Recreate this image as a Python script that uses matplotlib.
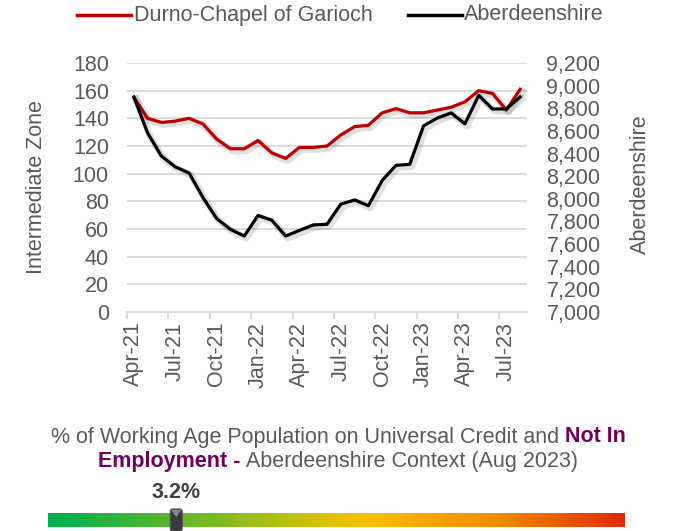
import matplotlib
matplotlib.use("Agg")
import matplotlib.pyplot as plt
import matplotlib.patheffects as pe
from matplotlib.colors import LinearSegmentedColormap
from matplotlib.patches import FancyBboxPatch, Polygon
import numpy as np

plt.rcParams['font.family'] = ['Liberation Sans', 'DejaVu Sans']

months = ['Apr-21', 'May-21', 'Jun-21', 'Jul-21', 'Aug-21', 'Sep-21', 'Oct-21', 'Nov-21', 'Dec-21',
          'Jan-22', 'Feb-22', 'Mar-22', 'Apr-22', 'May-22', 'Jun-22', 'Jul-22', 'Aug-22', 'Sep-22',
          'Oct-22', 'Nov-22', 'Dec-22', 'Jan-23', 'Feb-23', 'Mar-23', 'Apr-23', 'May-23', 'Jun-23',
          'Jul-23', 'Aug-23']
durno = [155, 140, 137, 138, 140, 136, 125, 118, 118, 124, 115, 111, 119, 119, 120, 128, 134, 135,
         144, 147, 144, 144, 146, 148, 152, 160, 158, 146, 161]
aberdeenshire = [8900, 8580, 8377, 8282, 8228, 8013, 7826, 7730, 7671, 7853, 7811, 7671, 7721, 7769,
                 7775, 7953, 7990, 7939, 8162, 8296, 8305, 8645, 8714, 8759, 8663, 8914, 8794, 8794, 8900]
left_ticks = list(range(0, 181, 20))
right_ticks = list(range(7000, 9201, 200))
gauge_value = 3.2
gauge_min, gauge_max = 0.0, 14.4

GRAY = '#595959'
FS = 15.5
fig = plt.figure(figsize=(6.75, 5.31), dpi=100)
ax = fig.add_axes([127/675, 1-312/531, 400/675, 249/531])
ax2 = ax.twinx()

x = np.arange(len(months))
shadow = [pe.SimpleLineShadow(offset=(1.5, -1.5), shadow_color='k', alpha=0.12, linewidth=5), pe.Normal()]
ax.plot(x, durno, color='#c00000', lw=2.3, path_effects=shadow, zorder=3)
ax2.plot(x, aberdeenshire, color='#000000', lw=2.3, path_effects=shadow, zorder=3)

ax.set_xlim(-0.5, len(months) - 0.5)
ax.set_ylim(0, 180)
ax2.set_ylim(7000, 9200)
ax.set_yticks(left_ticks)
ax.set_yticklabels([str(v) for v in left_ticks])
ax2.set_yticks(right_ticks)
ax2.set_yticklabels([f'{v:,}' for v in right_ticks])
ax.grid(axis='y', color='#d9d9d9', lw=1.3)
ax.set_axisbelow(True)

# category labels every 3 months, ticks at category boundaries
ax.set_xticks(x[::3])
ax.set_xticklabels(months[::3], rotation=90)
ax.set_xticks(np.arange(-0.5, len(months), 3), minor=True)
ax.tick_params(axis='x', which='major', length=0, pad=7, labelsize=FS, labelcolor=GRAY)
ax.tick_params(axis='x', which='minor', length=5, color='#d9d9d9', width=1.3)
ax.tick_params(axis='y', length=0, pad=13, labelsize=FS, labelcolor=GRAY)
ax2.tick_params(axis='y', length=0, pad=14, labelsize=FS, labelcolor=GRAY)
for a in (ax, ax2):
    for s in ('top', 'left', 'right'):
        a.spines[s].set_visible(False)
    a.spines['bottom'].set_color('#d9d9d9')
    a.spines['bottom'].set_linewidth(1.3)
ax.set_ylabel('Intermediate Zone', color=GRAY, fontsize=FS, labelpad=18.5)
ax2.set_ylabel('Aberdeenshire', color=GRAY, fontsize=FS)
ax2.yaxis.set_label_coords(1.2575, 0.515)

# legend
fig.lines.append(plt.Line2D([77/675, 131/675], [1-15/531]*2, color='#c00000', lw=2.5, transform=fig.transFigure))
fig.text(134/675, 1-15/531, 'Durno-Chapel of Garioch', color=GRAY, fontsize=FS, va='center', ha='left')
fig.lines.append(plt.Line2D([408/675, 462/675], [1-15/531]*2, color='#000000', lw=2.5, transform=fig.transFigure))
fig.text(464/675, 1-15/531, 'Aberdeenshire', color=GRAY, fontsize=FS, va='center', ha='left')

# title with mixed styles
PURPLE = '#700060'
renderer = fig.canvas.get_renderer()
def mixed_line(parts, y, cx=338/675, size=FS):
    texts = []
    for s, col, w in parts:
        texts.append(fig.text(0, y, s, color=col, fontweight=w, fontsize=size, va='center', ha='left'))
    widths = [t.get_window_extent(renderer).width for t in texts]
    total = sum(widths)
    xpos = cx * 675 - total / 2
    for t, w in zip(texts, widths):
        t.set_x(xpos / 675)
        xpos += w

mixed_line([('% of Working Age Population on Universal Credit and ', GRAY, 'normal'),
            ('Not In', PURPLE, 'bold')], 1-437/531)
mixed_line([('Employment -', PURPLE, 'bold'),
            (' Aberdeenshire Context (Aug 2023)', GRAY, 'normal')], 1-461/531)

# gauge bar
gax = fig.add_axes([48/675, 1-527/531, 577/675, 14/531])
cmap = LinearSegmentedColormap.from_list('g', [(0, '#00b050'), (0.2, '#52b72f'), (0.4, '#b3bf12'),
                                               (0.55, '#ffc000'), (0.78, '#f18c00'), (1, '#e02a00')])
gax.imshow(np.linspace(0, 1, 256)[None, :], aspect='auto', cmap=cmap, extent=[gauge_min, gauge_max, 0, 1])
gax.set_xlim(gauge_min, gauge_max)
gax.set_ylim(0, 1)
gax.axis('off')

mx = (48 + (gauge_value - gauge_min) / (gauge_max - gauge_min) * 577)
mw = 12
marker = FancyBboxPatch(((mx - mw/2)/675, 1-531/531), mw/675, 22/531,
                        boxstyle='round,pad=0,rounding_size=0.004', transform=fig.transFigure,
                        facecolor='#3a3a3a', edgecolor='#555555', lw=0.8, zorder=5)
fig.patches.append(marker)
tri = Polygon([((mx-5)/675, 1-510/531), ((mx+5)/675, 1-510/531), (mx/675, 1-517/531)],
              closed=True, transform=fig.transFigure, facecolor='#8a8a8a', edgecolor='none', zorder=6)
fig.patches.append(tri)
fig.text(mx/675, 1-493/531, f'{gauge_value}%', color='#404040', fontsize=FS, fontweight='bold',
         ha='center', va='center')

fig.savefig('out.png', dpi=100)
